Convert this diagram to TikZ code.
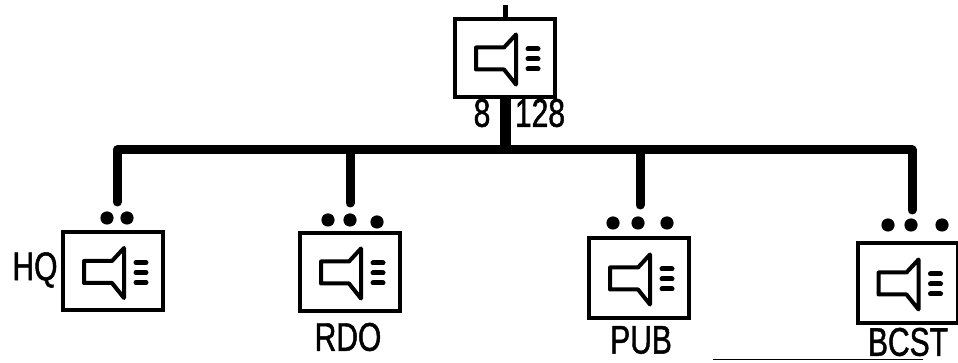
\documentclass[tikz,border=0pt]{standalone}
\usepackage{fontspec}
\newfontfamily\labelfont[FakeStretch=0.75,FakeBold=1.2]{Liberation Sans}
\usetikzlibrary{positioning,calc}

\begin{document}
\begin{tikzpicture}[x=0.5pt,y=0.5pt]
    \tikzstyle{station}=[rectangle, draw=black, line width=2pt, minimum width=50pt, minimum height=39pt, inner sep=0pt]
    \tikzstyle{bus}=[line width=4.5pt, line cap=round, line join=round]
    \tikzstyle{lbl}=[font=\labelfont\fontsize{20}{22}\selectfont, inner sep=0pt]
    \useasboundingbox (0,0) rectangle (958,363);
    % stations
    \node[station] (top) at (505,305) {};
    \node[station] (hq) at (113,91.5) {};
    \node[station] (rdo) at (350,91) {};
    \node[station, minimum height=40pt] (pub) at (639,85) {};
    \node[station, minimum height=40pt] (bcst) at (907.5,80) {};
    % speaker icons
    \foreach \s in {top,hq,rdo,pub,bcst} {
        \draw[line width=2pt, line join=round, shift={(\s.center)}]
            (-29,10.5) -- (-1,10.5) -- (11,23.5) -- (11,-26.5) -- (-1,-11.5) -- (-29,-11.5) -- cycle;
        \foreach \h in {9,-1,-11} {
            \draw[line width=2.5pt, line cap=round, shift={(\s.center)}] (23,\h) -- (33,\h);
        }
    }
    % labels
    \node[lbl] (n8) at (482,250) {8};
    \node[lbl] (n128) at (540,250) {128};
    \node[lbl] (lhq) at (35,93) {HQ};
    \node[lbl] (lrdo) at (348,26) {RDO};
    \node[lbl] (lpub) at (641,23) {PUB};
    \node[lbl] (lbcst) at (908,21) {BCST};
    % bus
    \coordinate (feed) at (505,358);
    \coordinate (jt) at (505,213);
    \coordinate (thq) at (117,161);
    \coordinate (trdo) at (350,160);
    \coordinate (tpub) at (640,158);
    \coordinate (tbcst) at (912,153);
    \draw[line width=2.5pt] (top.north) -- (feed);
    \draw[line width=5.5pt] (top.south) -- (top.south |- jt);
    \draw[bus] (thq) -- (thq |- jt) -- (tbcst |- jt) -- (tbcst);
    \foreach \t in {trdo,tpub} {
        \draw[bus] (\t) -- (\t |- jt);
    }
    % dots
    \foreach \x/\y in {107/145,127/145,328/143,350/143,377/141,613/140,638/140,667/140,888/138,911/138,942/138} {
        \fill (\x,\y) circle[radius=3.3pt];
    }
    \draw[line width=0.5pt] (713,3) -- (923,3);
\end{tikzpicture}
\end{document}
